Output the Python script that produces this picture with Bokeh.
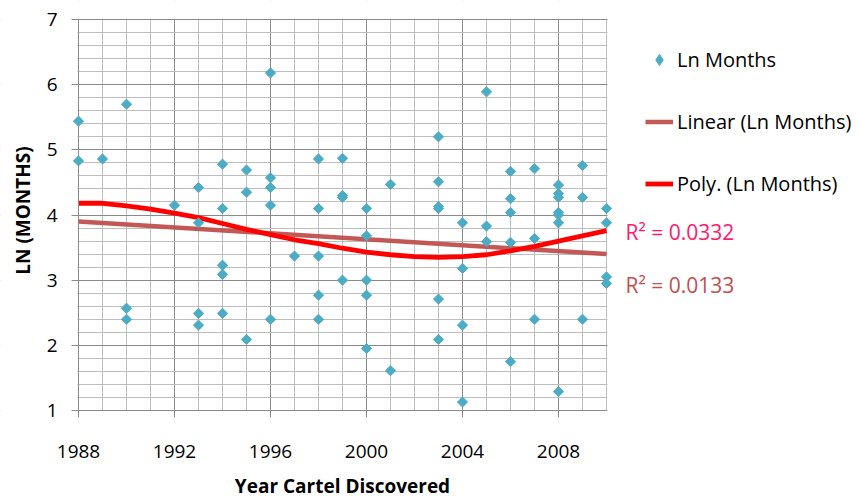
import numpy as np
from bokeh.plotting import figure
from bokeh.models import (Range1d, SingleIntervalTicker, Legend, LegendItem, Label,
                          BoxAnnotation)
from bokeh.embed import file_html
from bokeh.resources import INLINE

# ---- data ----
years = [1988, 1988, 1989, 1990, 1990, 1990, 1992,
         1993, 1993, 1993, 1993,
         1994, 1994, 1994, 1994, 1994,
         1995, 1995, 1995,
         1996, 1996, 1996, 1996, 1996,
         1997,
         1998, 1998, 1998, 1998, 1998,
         1999, 1999, 1999, 1999,
         2000, 2000, 2000, 2000, 2000,
         2001, 2001,
         2003, 2003, 2003, 2003, 2003, 2003,
         2004, 2004, 2004, 2004,
         2005, 2005, 2005,
         2006, 2006, 2006, 2006, 2006,
         2007, 2007, 2007,
         2008, 2008, 2008, 2008, 2008, 2008, 2008,
         2009, 2009, 2009,
         2010, 2010, 2010, 2010]
ln_months = [5.44, 4.83, 4.86, 5.70, 2.57, 2.40, 4.15,
             4.42, 3.88, 2.49, 2.31,
             4.78, 4.10, 3.23, 3.09, 2.49,
             4.69, 4.35, 2.09,
             6.18, 4.57, 4.42, 4.15, 2.40,
             3.37,
             4.86, 4.10, 3.37, 2.77, 2.40,
             4.87, 4.27, 4.30, 3.00,
             4.10, 3.68, 3.00, 2.77, 1.95,
             4.47, 1.61,
             5.20, 4.51, 4.13, 4.10, 2.71, 2.09,
             3.88, 3.18, 2.31, 1.13,
             5.89, 3.83, 3.59,
             4.67, 4.25, 4.04, 3.58, 1.75,
             4.71, 3.64, 2.40,
             4.46, 4.33, 4.27, 4.04, 4.00, 3.88, 1.29,
             4.76, 4.27, 2.40,
             4.10, 3.88, 3.05, 2.95]

linear_years = [1988, 2010]
linear_trend = [3.90, 3.40]

poly_years = [1988, 1989, 1990, 1991, 1992, 1993, 1994, 1995, 1996, 1997, 1998, 1999,
              2000, 2001, 2002, 2003, 2004, 2005, 2006, 2007, 2008, 2009, 2010]
poly_trend = [4.18, 4.18, 4.14, 4.09, 4.03, 3.96, 3.87, 3.78, 3.70, 3.62, 3.56, 3.49,
              3.43, 3.39, 3.36, 3.35, 3.36, 3.39, 3.45, 3.52, 3.60, 3.68, 3.76]

x_start, x_end = 1988, 2010
y_start, y_end = 1, 7
series_names = ["Ln Months", "Linear (Ln Months)", "Poly. (Ln Months)"]
r2_texts = ["R\u00b2 = 0.0332", "R\u00b2 = 0.0133"]
r2_y = [3.746, 2.932]
x_title = "Year Cartel Discovered"
y_title = "LN (MONTHS)"

FONT = "Open Sans"
POINT_COLOR = "#4BACC6"
LINEAR_COLOR = "#C0504D"
POLY_COLOR = "#FF0000"
R2_POLY_COLOR = "#FF1A6E"
MAJOR_GRID = "#8A8A8A"
MINOR_GRID = "#BDBDBD"

# ---- layout (pixels): the frame covers the whole canvas, axes sit at fixed data locations
W, H = 858, 498
LEFT, TOP, BOTTOM_Y, RIGHT_AXIS = 78, 19, 410, 606
px_per_year = (RIGHT_AXIS - LEFT) / (x_end - x_start)
px_per_unit = (BOTTOM_Y - TOP) / (y_end - y_start)
view_x_start = x_start - LEFT / px_per_year
view_x_end = x_start + (W - LEFT) / px_per_year
view_y_start = y_start - (H - BOTTOM_Y) / px_per_unit
view_y_end = y_end + TOP / px_per_unit

p = figure(width=W, height=H, output_backend="svg", toolbar_location=None,
           x_range=Range1d(view_x_start, view_x_end), y_range=Range1d(view_y_start, view_y_end),
           min_border_left=0, min_border_right=0, min_border_top=0, min_border_bottom=0)
p.background_fill_color = "white"
p.border_fill_color = "white"
p.outline_line_color = None

xt = SingleIntervalTicker(interval=4, num_minor_ticks=4)
yt = SingleIntervalTicker(interval=1, num_minor_ticks=5)
p.xaxis.ticker = xt
p.yaxis.ticker = yt
p.xgrid.ticker = xt
p.ygrid.ticker = yt

for g in (p.xgrid, p.ygrid):
    g.grid_line_color = MAJOR_GRID
    g.grid_line_width = 1
    g.minor_grid_line_color = MINOR_GRID
    g.minor_grid_line_width = 1

for ax in (p.xaxis, p.yaxis):
    ax.axis_line_color = MAJOR_GRID
    ax.major_tick_line_color = MAJOR_GRID
    ax.major_tick_out = 7
    ax.major_tick_in = 0
    ax.minor_tick_out = 0
    ax.minor_tick_in = 0
    ax.major_label_text_font = FONT
    ax.major_label_text_font_size = "19px"
    ax.major_label_text_color = "black"

p.xaxis.bounds = (x_start, x_end)
p.xaxis.fixed_location = y_start
p.xaxis.major_label_standoff = 27
p.yaxis.bounds = (y_start, y_end)
p.yaxis.fixed_location = x_start
p.yaxis.major_label_standoff = 14

# white covers outside the data area (extended well past the canvas edges)
xa, xb = view_x_start - 5, view_x_end + 5
ya, yb = view_y_start - 5, view_y_end + 5
for kw in (dict(left=xa, right=xb, bottom=ya, top=y_start - 0.005),
           dict(left=xa, right=xb, bottom=y_end + 0.012, top=yb),
           dict(left=x_end + 0.04, right=xb, bottom=ya, top=yb),
           dict(left=xa, right=x_start - 0.04, bottom=ya, top=yb)):
    p.add_layout(BoxAnnotation(fill_color="white", fill_alpha=1.0, line_alpha=0,
                               level="glyph", **kw))

lin = p.line(linear_years, linear_trend, line_color=LINEAR_COLOR, line_width=4.5, line_alpha=0.95)
poly = p.line(poly_years, poly_trend, line_color=POLY_COLOR, line_width=4.8)
# legend swatch for the points (a diamond hidden beneath the first data point)
pts_key = p.scatter(years[:1], ln_months[:1], marker="diamond", size=9,
                    fill_color=POINT_COLOR, line_color=POINT_COLOR)
pts = p.scatter(years, ln_months, marker="square", angle=np.pi / 4, size=7.2,
                fill_color=POINT_COLOR, line_color=POINT_COLOR, level="overlay")

legend = Legend(items=[LegendItem(label=series_names[0], renderers=[pts_key]),
                       LegendItem(label=series_names[1], renderers=[lin]),
                       LegendItem(label=series_names[2], renderers=[poly])],
                location=(567 + LEFT, 211 + (H - BOTTOM_Y)), orientation="vertical",
                glyph_width=28, glyph_height=31, label_height=31,
                label_standoff=4, spacing=31, padding=0, margin=0,
                border_line_color=None, background_fill_alpha=0,
                label_text_font=FONT, label_text_font_size="20px",
                label_text_color="black")
p.add_layout(legend, "center")

p.add_layout(Label(x=x_end + 0.79, y=r2_y[0], text=r2_texts[0], text_font=FONT,
                   text_font_size="21px", text_color=R2_POLY_COLOR, text_baseline="middle"))
p.add_layout(Label(x=x_end + 0.79, y=r2_y[1], text=r2_texts[1], text_font=FONT,
                   text_font_size="21px", text_color=LINEAR_COLOR, text_baseline="middle"))

# axis titles
p.add_layout(Label(x=(x_start + x_end) / 2, y=y_start - (485 - BOTTOM_Y) / px_per_unit,
                   text=x_title, text_font=FONT, text_font_style="bold",
                   text_font_size="19px", text_color="black",
                   text_align="center", text_baseline="middle"))
p.add_layout(Label(x=x_start - (LEFT - 22) / px_per_year, y=y_end - (210 - TOP) / px_per_unit,
                   text=y_title, angle=np.pi / 2, text_font=FONT, text_font_style="bold",
                   text_font_size="19px", text_color="black",
                   text_align="center", text_baseline="middle"))

open("out.html", "w").write(file_html(p, INLINE))
